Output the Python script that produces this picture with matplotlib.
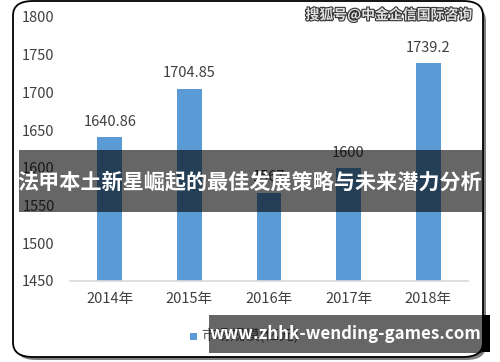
import matplotlib
matplotlib.use("Agg")
import matplotlib.pyplot as plt
from matplotlib.patches import FancyBboxPatch, Rectangle
import matplotlib.patheffects as pe

plt.rcParams['font.family'] = ['Noto Sans CJK SC', 'DejaVu Sans']

categories = ["2014年", "2015年", "2016年", "2017年", "2018年"]
values = [1640.86, 1704.85, 1567, 1600, 1739.2]
value_labels = ["1640.86", "1704.85", "1567", "1600", "1739.2"]
yticks = [1450, 1500, 1550, 1600, 1650, 1700, 1750, 1800]
legend_label = "市场规模(亿元)"
title = "法甲本土新星崛起的最佳发展策略与未来潜力分析"
watermark = "搜狐号@中金企信国际咨询"
footer = "www.zhhk-wending-games.com"

W, H = 500, 362
fig = plt.figure(figsize=(W/100, H/100), dpi=100)
fig.patch.set_facecolor("white")

def fx(px): return px / W
def fy(py): return 1 - py / H

# frame with shadow
shadow = FancyBboxPatch((fx(16), fy(360)), fx(470), (358-4)/H,
                        boxstyle="round,pad=0,rounding_size=0.04",
                        transform=fig.transFigure, facecolor="#7f7f7f",
                        edgecolor="none", zorder=-3)
fig.patches.append(shadow)
frame = FancyBboxPatch((fx(13), fy(357)), fx(470), (357-1)/H,
                       boxstyle="round,pad=0,rounding_size=0.04",
                       transform=fig.transFigure, facecolor="white",
                       edgecolor="black", linewidth=1.3, zorder=-2)
fig.patches.append(frame)

ax = fig.add_axes([fx(70), fy(281), fx(468) - fx(70), fy(17) - fy(281)])
ax.set_facecolor("none")
x = range(len(categories))
bars = ax.bar(x, values, width=0.31, color="#5b9bd5", zorder=2)
ax.set_ylim(1450, 1800)
ax.set_xlim(-0.5, len(categories) - 0.5)
ax.set_yticks(yticks)
ax.set_yticklabels([str(t) for t in yticks])
ax.set_xticks(list(x))
ax.set_xticklabels(categories)
ax.tick_params(axis="y", length=0, pad=11, labelsize=10.5, labelcolor="#404040")
ax.tick_params(axis="x", length=0, pad=8, labelsize=10.5, labelcolor="#404040")
for s in ["top", "right", "left"]:
    ax.spines[s].set_visible(False)
ax.spines["bottom"].set_color("#d9d9d9")
ax.spines["bottom"].set_linewidth(1.2)
for xi, v, lab in zip(x, values, value_labels):
    ax.annotate(lab, (xi, v), xytext=(0, 6), textcoords="offset points",
                ha="center", va="bottom", fontsize=10.5, color="#404040")

# legend
fig.patches.append(Rectangle((fx(190), fy(340)), fx(7), 7/H,
                             transform=fig.transFigure, facecolor="#5b9bd5",
                             edgecolor="none", zorder=1))
fig.text(fx(201), fy(336), legend_label, ha="left", va="center",
         fontsize=10.5, color="#595959")

# watermark
fig.text(fx(472), fy(15), watermark, ha="right", va="center", fontsize=10,
         fontweight="bold", color="#e0e0e0",
         path_effects=[pe.withStroke(linewidth=1.6, foreground="#333333")])

# title banner
fig.patches.append(Rectangle((fx(19), fy(212)), fx(463), 62/H,
                             transform=fig.transFigure, facecolor="black",
                             alpha=0.6, edgecolor="none", zorder=5))
fig.text(fx(250), fy(182), title, ha="center", va="center", fontsize=15.2,
         fontweight="bold", color="white", zorder=6)

# footer banner
fig.patches.append(Rectangle((fx(482), fy(352)), fx(8), 37/H,
                             transform=fig.transFigure, facecolor="black",
                             edgecolor="none", zorder=5))
fig.patches.append(Rectangle((fx(209), fy(353)), fx(273), 38/H,
                             transform=fig.transFigure, facecolor="black",
                             alpha=0.6, edgecolor="none", zorder=5))
fig.text(fx(345), fy(334), footer, ha="center", va="center", fontsize=12.2,
         fontweight="bold", color="white", zorder=6)

fig.savefig("out.png", dpi=100)
